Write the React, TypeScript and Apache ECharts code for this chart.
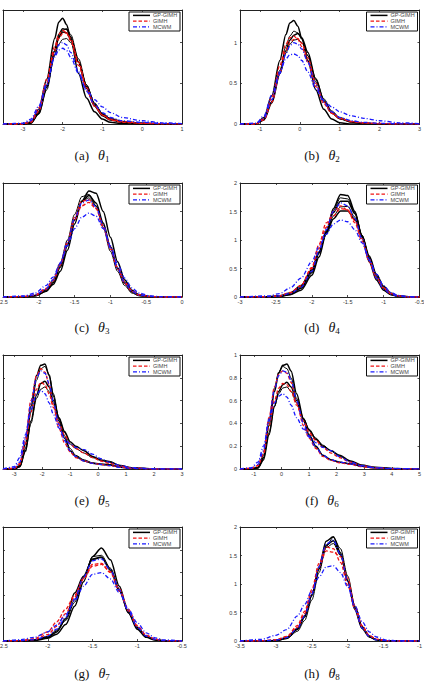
import React, { useEffect, useRef } from "react";
import * as echarts from "echarts";

// ---------- (a) theta1 ----------
const A_X = [-3.5, -3, -2.8, -2.6, -2.4, -2.2, -2.1, -2.0, -1.9, -1.8, -1.6, -1.4, -1.2, -1.0, -0.8, -0.5, 0, 0.5, 1];
const A_GP = [
  [0, 0, 0.02, 0.18, 0.55, 1.05, 1.25, 1.30, 1.22, 1.05, 0.62, 0.32, 0.15, 0.06, 0.02, 0.005, 0, 0, 0],
  [0, 0, 0.01, 0.12, 0.42, 0.85, 1.05, 1.15, 1.17, 1.10, 0.80, 0.48, 0.25, 0.12, 0.06, 0.02, 0.005, 0, 0],
  [0, 0, 0.02, 0.15, 0.48, 0.90, 1.07, 1.13, 1.12, 1.04, 0.76, 0.46, 0.24, 0.12, 0.06, 0.03, 0.01, 0.003, 0],
  [0, 0, 0.02, 0.15, 0.46, 0.84, 0.98, 1.04, 1.05, 1.00, 0.76, 0.48, 0.26, 0.13, 0.07, 0.03, 0.01, 0, 0],
  [0, 0, 0.01, 0.13, 0.45, 0.90, 1.10, 1.17, 1.16, 1.07, 0.76, 0.44, 0.22, 0.10, 0.05, 0.02, 0.005, 0, 0],
];
const A_GIMH = [
  [0, 0, 0.03, 0.20, 0.55, 0.95, 1.10, 1.15, 1.12, 1.02, 0.72, 0.42, 0.22, 0.11, 0.06, 0.03, 0.01, 0.005, 0],
  [0, 0, 0.02, 0.16, 0.50, 0.90, 1.05, 1.11, 1.12, 1.05, 0.76, 0.45, 0.23, 0.11, 0.05, 0.02, 0.008, 0.003, 0],
];
const A_MCWM = [
  [0, 0.01, 0.06, 0.22, 0.50, 0.82, 0.91, 0.93, 0.90, 0.82, 0.62, 0.42, 0.30, 0.21, 0.14, 0.08, 0.04, 0.015, 0.005],
  [0, 0.005, 0.04, 0.18, 0.47, 0.85, 0.97, 1.00, 0.97, 0.88, 0.64, 0.40, 0.24, 0.14, 0.08, 0.04, 0.02, 0.008, 0.002],
];
const A_XTICKS = [-3, -2, -1, 0, 1];
const A_YTICKS = [0, 0.5, 1];

// ---------- (b) theta2 ----------
const B_X = [-1.5, -1.1, -0.9, -0.7, -0.5, -0.35, -0.25, -0.15, -0.05, 0.05, 0.2, 0.4, 0.6, 0.8, 1.0, 1.3, 1.6, 2.0, 2.5, 3.0];
const B_GP = [
  [0, 0, 0.08, 0.35, 0.78, 1.10, 1.24, 1.27, 1.20, 1.05, 0.78, 0.42, 0.18, 0.06, 0.015, 0, 0, 0, 0, 0],
  [0, 0, 0.05, 0.28, 0.66, 0.95, 1.08, 1.14, 1.12, 1.04, 0.84, 0.52, 0.27, 0.13, 0.06, 0.02, 0.006, 0, 0, 0],
  [0, 0, 0.05, 0.26, 0.62, 0.90, 1.03, 1.09, 1.11, 1.06, 0.88, 0.55, 0.29, 0.14, 0.07, 0.025, 0.008, 0.002, 0, 0],
  [0, 0, 0.06, 0.28, 0.62, 0.87, 0.98, 1.03, 1.04, 1.00, 0.84, 0.56, 0.31, 0.16, 0.08, 0.03, 0.01, 0.003, 0, 0],
];
const B_GIMH = [
  [0, 0, 0.07, 0.33, 0.72, 0.98, 1.06, 1.08, 1.04, 0.95, 0.76, 0.46, 0.25, 0.13, 0.07, 0.03, 0.015, 0.006, 0.002, 0],
  [0, 0, 0.05, 0.27, 0.63, 0.90, 1.00, 1.04, 1.05, 0.99, 0.81, 0.50, 0.27, 0.14, 0.07, 0.03, 0.012, 0.005, 0.001, 0],
];
const B_MCWM = [
  [0, 0.01, 0.10, 0.36, 0.64, 0.80, 0.85, 0.86, 0.84, 0.78, 0.64, 0.43, 0.29, 0.21, 0.15, 0.10, 0.07, 0.04, 0.015, 0.005],
  [0, 0.005, 0.07, 0.30, 0.62, 0.86, 0.96, 1.00, 0.98, 0.92, 0.76, 0.48, 0.27, 0.15, 0.08, 0.04, 0.02, 0.008, 0.002, 0],
];
const B_XTICKS = [-1, 0, 1, 2, 3];
const B_YTICKS = [0, 0.5, 1];

// ---------- (c) theta3 ----------
const C_X = [-2.5, -2.2, -2.05, -1.9, -1.8, -1.7, -1.6, -1.5, -1.4, -1.3, -1.2, -1.1, -1.0, -0.9, -0.8, -0.7, -0.6, -0.45, -0.3, 0];
const C_GP = [
  [0, 0, 0.02, 0.10, 0.22, 0.45, 0.82, 1.28, 1.68, 1.86, 1.82, 1.50, 1.05, 0.62, 0.30, 0.12, 0.04, 0.01, 0, 0],
  [0, 0, 0.03, 0.13, 0.30, 0.60, 1.00, 1.45, 1.76, 1.80, 1.60, 1.22, 0.80, 0.45, 0.20, 0.07, 0.02, 0, 0, 0],
  [0, 0, 0.02, 0.10, 0.25, 0.52, 0.90, 1.35, 1.68, 1.78, 1.65, 1.30, 0.88, 0.50, 0.24, 0.09, 0.03, 0.005, 0, 0],
  [0, 0.005, 0.03, 0.12, 0.27, 0.55, 0.93, 1.36, 1.67, 1.74, 1.60, 1.27, 0.88, 0.52, 0.26, 0.10, 0.035, 0.008, 0, 0],
];
const C_GIMH = [
  [0, 0.01, 0.04, 0.15, 0.30, 0.58, 0.95, 1.35, 1.60, 1.66, 1.55, 1.25, 0.88, 0.52, 0.26, 0.11, 0.04, 0.01, 0, 0],
  [0, 0.005, 0.03, 0.13, 0.28, 0.56, 0.96, 1.40, 1.68, 1.71, 1.56, 1.22, 0.84, 0.49, 0.24, 0.10, 0.035, 0.008, 0, 0],
];
const C_MCWM = [
  [0, 0.02, 0.07, 0.20, 0.35, 0.60, 0.90, 1.20, 1.40, 1.47, 1.42, 1.20, 0.90, 0.58, 0.33, 0.16, 0.07, 0.02, 0.005, 0],
  [0, 0.01, 0.04, 0.14, 0.30, 0.58, 0.96, 1.38, 1.65, 1.70, 1.58, 1.26, 0.86, 0.50, 0.25, 0.10, 0.035, 0.01, 0.002, 0],
];
const C_XTICKS = [-2.5, -2, -1.5, -1, -0.5, 0];
const C_YTICKS = [0, 0.5, 1, 1.5, 2];

// ---------- (d) theta4 ----------
const D_X = [-3, -2.6, -2.45, -2.3, -2.15, -2.0, -1.9, -1.8, -1.7, -1.6, -1.5, -1.4, -1.3, -1.2, -1.1, -1.0, -0.9, -0.8, -0.65, -0.5];
const D_GP = [
  [0, 0, 0.01, 0.04, 0.12, 0.38, 0.70, 1.12, 1.55, 1.80, 1.78, 1.50, 1.05, 0.62, 0.30, 0.12, 0.04, 0.01, 0, 0],
  [0, 0, 0.01, 0.05, 0.15, 0.42, 0.76, 1.15, 1.52, 1.74, 1.72, 1.48, 1.08, 0.66, 0.33, 0.14, 0.05, 0.015, 0, 0],
  [0, 0, 0.01, 0.05, 0.16, 0.44, 0.78, 1.15, 1.48, 1.68, 1.68, 1.46, 1.08, 0.68, 0.35, 0.15, 0.05, 0.015, 0, 0],
  [0, 0.005, 0.02, 0.06, 0.18, 0.46, 0.78, 1.12, 1.42, 1.58, 1.59, 1.40, 1.07, 0.70, 0.38, 0.17, 0.06, 0.02, 0, 0],
  [0, 0.005, 0.02, 0.07, 0.20, 0.48, 0.79, 1.10, 1.37, 1.51, 1.51, 1.36, 1.07, 0.72, 0.40, 0.19, 0.07, 0.02, 0.003, 0],
];
const D_GIMH = [
  [0, 0.005, 0.02, 0.08, 0.20, 0.50, 0.85, 1.22, 1.50, 1.60, 1.52, 1.30, 0.98, 0.62, 0.33, 0.15, 0.06, 0.02, 0, 0],
  [0, 0.005, 0.02, 0.07, 0.20, 0.52, 0.92, 1.30, 1.42, 1.55, 1.53, 1.34, 1.02, 0.66, 0.35, 0.16, 0.06, 0.02, 0, 0],
];
const D_MCWM = [
  [0, 0.02, 0.06, 0.16, 0.33, 0.62, 0.88, 1.10, 1.28, 1.35, 1.32, 1.18, 0.95, 0.66, 0.40, 0.20, 0.08, 0.03, 0.005, 0],
  [0, 0.005, 0.02, 0.06, 0.17, 0.45, 0.80, 1.18, 1.50, 1.65, 1.60, 1.38, 1.02, 0.64, 0.33, 0.14, 0.05, 0.015, 0, 0],
];
const D_XTICKS = [-3, -2.5, -2, -1.5, -1, -0.5];
const D_YTICKS = [0, 0.5, 1, 1.5, 2];

// ---------- (e) theta5 ----------
const E_X = [-3.4, -3.0, -2.8, -2.6, -2.4, -2.2, -2.05, -1.9, -1.75, -1.6, -1.4, -1.2, -1.0, -0.8, -0.5, -0.2, 0.1, 0.4, 0.8, 1.2, 2.0, 3.0];
const E_GP = [
  [0, 0, 0.03, 0.22, 0.55, 0.82, 0.91, 0.92, 0.82, 0.64, 0.42, 0.27, 0.16, 0.11, 0.07, 0.05, 0.04, 0.035, 0.015, 0.005, 0, 0],
  [0, 0, 0.02, 0.18, 0.50, 0.78, 0.88, 0.90, 0.83, 0.66, 0.45, 0.29, 0.18, 0.12, 0.08, 0.055, 0.045, 0.04, 0.018, 0.006, 0, 0],
  [0, 0, 0.02, 0.16, 0.42, 0.65, 0.75, 0.77, 0.72, 0.60, 0.45, 0.33, 0.24, 0.20, 0.16, 0.11, 0.08, 0.065, 0.03, 0.012, 0.002, 0],
  [0, 0, 0.02, 0.15, 0.40, 0.62, 0.70, 0.72, 0.68, 0.58, 0.44, 0.32, 0.22, 0.18, 0.14, 0.10, 0.075, 0.06, 0.03, 0.01, 0, 0],
];
const E_GIMH = [
  [0, 0.005, 0.05, 0.27, 0.60, 0.82, 0.88, 0.85, 0.74, 0.56, 0.36, 0.23, 0.15, 0.10, 0.07, 0.05, 0.04, 0.03, 0.015, 0.005, 0, 0],
  [0, 0.005, 0.04, 0.22, 0.50, 0.70, 0.76, 0.74, 0.66, 0.54, 0.40, 0.30, 0.22, 0.18, 0.14, 0.10, 0.07, 0.05, 0.025, 0.01, 0.002, 0],
];
const E_MCWM = [
  [0, 0.02, 0.10, 0.30, 0.52, 0.66, 0.69, 0.66, 0.58, 0.48, 0.36, 0.27, 0.22, 0.19, 0.17, 0.13, 0.09, 0.06, 0.03, 0.012, 0.002, 0],
  [0, 0.01, 0.06, 0.26, 0.58, 0.80, 0.86, 0.84, 0.75, 0.59, 0.39, 0.25, 0.16, 0.11, 0.07, 0.05, 0.04, 0.03, 0.015, 0.005, 0, 0],
];
const E_XTICKS = [-3, -2, -1, 0, 1, 2, 3];
const E_YTICKS = [0, 0.2, 0.4, 0.6, 0.8, 1];

// ---------- (f) theta6 ----------
const F_X = [-1.5, -1.1, -0.85, -0.65, -0.45, -0.25, -0.1, 0.05, 0.2, 0.35, 0.55, 0.8, 1.0, 1.25, 1.5, 1.8, 2.1, 2.5, 2.9, 3.4, 4.0, 5.0];
const F_GP = [
  [0, 0, 0.01, 0.10, 0.38, 0.68, 0.84, 0.91, 0.92, 0.86, 0.66, 0.44, 0.30, 0.20, 0.12, 0.08, 0.06, 0.045, 0.025, 0.01, 0.003, 0],
  [0, 0, 0.015, 0.12, 0.42, 0.71, 0.85, 0.90, 0.88, 0.80, 0.62, 0.42, 0.29, 0.19, 0.12, 0.08, 0.06, 0.045, 0.025, 0.01, 0.003, 0],
  [0, 0, 0.01, 0.08, 0.30, 0.55, 0.68, 0.74, 0.76, 0.72, 0.60, 0.44, 0.34, 0.26, 0.20, 0.16, 0.12, 0.07, 0.035, 0.015, 0.005, 0],
  [0, 0, 0.01, 0.09, 0.32, 0.55, 0.66, 0.71, 0.72, 0.68, 0.58, 0.44, 0.35, 0.27, 0.21, 0.16, 0.11, 0.065, 0.03, 0.012, 0.004, 0],
];
const F_GIMH = [
  [0, 0.005, 0.03, 0.15, 0.45, 0.72, 0.83, 0.86, 0.84, 0.76, 0.58, 0.38, 0.27, 0.18, 0.11, 0.075, 0.055, 0.04, 0.02, 0.008, 0.002, 0],
  [0, 0.005, 0.03, 0.13, 0.38, 0.60, 0.71, 0.75, 0.74, 0.68, 0.56, 0.42, 0.32, 0.25, 0.19, 0.14, 0.10, 0.06, 0.03, 0.012, 0.003, 0],
];
const F_MCWM = [
  [0, 0.01, 0.06, 0.20, 0.42, 0.58, 0.64, 0.66, 0.63, 0.56, 0.45, 0.35, 0.29, 0.23, 0.19, 0.16, 0.11, 0.06, 0.03, 0.012, 0.005, 0],
  [0, 0.008, 0.04, 0.16, 0.44, 0.70, 0.82, 0.86, 0.85, 0.78, 0.60, 0.40, 0.28, 0.19, 0.12, 0.08, 0.06, 0.045, 0.025, 0.01, 0.003, 0],
];
const F_XTICKS = [-1, 0, 1, 2, 3, 4, 5];
const F_YTICKS = [0, 0.2, 0.4, 0.6, 0.8, 1];

// ---------- (g) theta7 ----------
const G_X = [-2.5, -2.3, -2.15, -2.0, -1.9, -1.8, -1.7, -1.6, -1.5, -1.4, -1.3, -1.2, -1.1, -1.0, -0.9, -0.8, -0.7, -0.5];
const G_GP = [
  [0, 0, 0.01, 0.06, 0.15, 0.36, 0.76, 1.30, 1.85, 2.04, 1.78, 1.20, 0.62, 0.26, 0.08, 0.02, 0, 0],
  [0, 0, 0.02, 0.09, 0.22, 0.45, 0.85, 1.38, 1.85, 1.88, 1.60, 1.12, 0.62, 0.28, 0.10, 0.03, 0.005, 0],
  [0, 0, 0.02, 0.08, 0.20, 0.48, 1.05, 1.42, 1.80, 1.84, 1.55, 1.10, 0.64, 0.30, 0.10, 0.03, 0, 0],
  [0, 0.005, 0.02, 0.10, 0.24, 0.50, 0.90, 1.40, 1.78, 1.83, 1.58, 1.14, 0.66, 0.30, 0.11, 0.03, 0.005, 0],
];
const G_GIMH = [
  [0, 0.01, 0.05, 0.20, 0.42, 0.70, 1.00, 1.38, 1.68, 1.70, 1.50, 1.10, 0.66, 0.32, 0.12, 0.04, 0.01, 0],
  [0, 0.005, 0.03, 0.14, 0.32, 0.60, 0.96, 1.36, 1.64, 1.68, 1.52, 1.14, 0.70, 0.34, 0.13, 0.04, 0.01, 0],
];
const G_MCWM = [
  [0, 0.03, 0.08, 0.20, 0.35, 0.58, 0.88, 1.20, 1.46, 1.50, 1.36, 1.06, 0.70, 0.40, 0.18, 0.07, 0.025, 0],
  [0, 0.01, 0.03, 0.11, 0.26, 0.52, 0.92, 1.40, 1.76, 1.80, 1.56, 1.12, 0.66, 0.30, 0.11, 0.035, 0.008, 0],
];
const G_XTICKS = [-2.5, -2, -1.5, -1, -0.5];
const G_YTICKS = [0, 0.5, 1, 1.5, 2, 2.5];

// ---------- (h) theta8 ----------
const H_X = [-3.5, -3.2, -3.0, -2.85, -2.7, -2.6, -2.5, -2.4, -2.3, -2.2, -2.1, -2.0, -1.9, -1.8, -1.7, -1.6, -1.45, -1.3, -1.0];
const H_GP = [
  [0, 0, 0.005, 0.05, 0.20, 0.42, 0.80, 1.30, 1.75, 1.83, 1.55, 1.05, 0.55, 0.22, 0.07, 0.02, 0, 0, 0],
  [0, 0, 0.005, 0.04, 0.17, 0.36, 0.72, 1.20, 1.66, 1.82, 1.62, 1.14, 0.62, 0.26, 0.09, 0.025, 0.003, 0, 0],
  [0, 0, 0.008, 0.06, 0.22, 0.44, 0.80, 1.26, 1.68, 1.76, 1.52, 1.06, 0.58, 0.24, 0.08, 0.02, 0, 0, 0],
  [0, 0, 0.01, 0.06, 0.22, 0.45, 0.82, 1.26, 1.64, 1.71, 1.50, 1.06, 0.60, 0.26, 0.09, 0.025, 0.003, 0, 0],
];
const H_GIMH = [
  [0, 0.005, 0.02, 0.08, 0.27, 0.52, 0.90, 1.36, 1.65, 1.62, 1.38, 0.98, 0.56, 0.25, 0.09, 0.03, 0.005, 0, 0],
  [0, 0.005, 0.02, 0.07, 0.24, 0.48, 0.86, 1.30, 1.58, 1.56, 1.48, 1.10, 0.62, 0.27, 0.10, 0.03, 0.005, 0, 0],
];
const H_MCWM = [
  [0, 0.03, 0.10, 0.20, 0.44, 0.64, 0.88, 1.12, 1.30, 1.32, 1.20, 0.95, 0.62, 0.34, 0.16, 0.07, 0.015, 0.003, 0],
  [0, 0.003, 0.015, 0.06, 0.22, 0.44, 0.82, 1.30, 1.70, 1.77, 1.52, 1.04, 0.56, 0.23, 0.08, 0.02, 0.003, 0, 0],
];
const H_XTICKS = [-3.5, -3, -2.5, -2, -1.5, -1];
const H_YTICKS = [0, 0.5, 1, 1.5, 2];

const METHODS = ["GP-GIMH", "GIMH", "MCWM"];
const CAPTION_LETTERS = ["a", "b", "c", "d", "e", "f", "g", "h"];

const PANELS = [
  { x: A_X, gp: A_GP, gimh: A_GIMH, mcwm: A_MCWM, xMin: -3.5, xMax: 1, xTicks: A_XTICKS, yMax: 1.4, yTicks: A_YTICKS },
  { x: B_X, gp: B_GP, gimh: B_GIMH, mcwm: B_MCWM, xMin: -1.5, xMax: 3, xTicks: B_XTICKS, yMax: 1.4, yTicks: B_YTICKS },
  { x: C_X, gp: C_GP, gimh: C_GIMH, mcwm: C_MCWM, xMin: -2.5, xMax: 0, xTicks: C_XTICKS, yMax: 2, yTicks: C_YTICKS },
  { x: D_X, gp: D_GP, gimh: D_GIMH, mcwm: D_MCWM, xMin: -3, xMax: -0.5, xTicks: D_XTICKS, yMax: 2, yTicks: D_YTICKS },
  { x: E_X, gp: E_GP, gimh: E_GIMH, mcwm: E_MCWM, xMin: -3.4, xMax: 3, xTicks: E_XTICKS, yMax: 1, yTicks: E_YTICKS },
  { x: F_X, gp: F_GP, gimh: F_GIMH, mcwm: F_MCWM, xMin: -1.5, xMax: 5, xTicks: F_XTICKS, yMax: 1, yTicks: F_YTICKS },
  { x: G_X, gp: G_GP, gimh: G_GIMH, mcwm: G_MCWM, xMin: -2.5, xMax: -0.5, xTicks: G_XTICKS, yMax: 2.5, yTicks: G_YTICKS },
  { x: H_X, gp: H_GP, gimh: H_GIMH, mcwm: H_MCWM, xMin: -3.5, xMax: -1, xTicks: H_XTICKS, yMax: 2, yTicks: H_YTICKS },
];

// layout
const COL_LEFT = [3, 240];
const COL_WIDTH = [179, 179.5];
const ROW_TOP = [10, 183, 355, 527];
const PLOT_H = 114;
const CAP_X = [92, 322];
const CAP_Y = [155, 327, 500, 673];

const BLACK = "#000000";
const RED = "#f01414";
const BLUE = "#1a1aff";
const AXIS_COLOR = "#222";
const FONT = "'Liberation Sans', Arial, sans-serif";
const SERIF = "'Liberation Serif', 'Times New Roman', serif";
const DASH_RED = [3.5, 2];
const DASH_BLUE = [4, 2, 1, 2];

function legendGroup(left: number, top: number) {
  const styles = [
    { stroke: BLACK, lineWidth: 1.5, lineDash: null as any },
    { stroke: RED, lineWidth: 1.3, lineDash: DASH_RED },
    { stroke: BLUE, lineWidth: 1.3, lineDash: DASH_BLUE },
  ];
  const children: any[] = [
    { type: "rect", shape: { x: 0, y: 0, width: 51, height: 19 }, style: { fill: "#ffffff", stroke: "#111", lineWidth: 1 } },
  ];
  METHODS.forEach((m, k) => {
    const cy = 3.4 + k * 5.7;
    children.push({
      type: "line",
      shape: { x1: 4, y1: cy, x2: 21, y2: cy },
      style: { stroke: styles[k].stroke, lineWidth: styles[k].lineWidth, lineDash: styles[k].lineDash },
    });
    children.push({
      type: "text",
      x: 24, y: cy,
      style: { text: m, fontSize: 5.5, fontFamily: FONT, fill: "#444", verticalAlign: "middle", align: "left" },
    });
  });
  return { type: "group", x: left, y: top, z: 100, silent: true, children };
}

function buildOption() {
  const grid: any[] = [];
  const xAxis: any[] = [];
  const yAxis: any[] = [];
  const series: any[] = [];
  const graphic: any[] = [];

  PANELS.forEach((p, i) => {
    const col = i % 2;
    const row = Math.floor(i / 2);
    const left = COL_LEFT[col];
    const width = COL_WIDTH[col];
    const top = ROW_TOP[row];
    grid.push({ left, top, width, height: PLOT_H, containLabel: false, outerBoundsMode: "none" });

    const tick = (vals: number[]) => ({ show: true, inside: true, length: 2, customValues: vals, lineStyle: { color: AXIS_COLOR, width: 0.8 } });
    const line = { show: true, onZero: false, lineStyle: { color: AXIS_COLOR, width: 1 } };
    const lbl = (vals: number[], margin: number) => ({
      show: true, customValues: vals, fontSize: 5.5, color: "#333", fontFamily: FONT, margin, hideOverlap: false,
    });

    xAxis.push({
      type: "value", gridIndex: i, position: "bottom", min: p.xMin, max: p.xMax,
      axisLine: line, axisTick: tick(p.xTicks), axisLabel: lbl(p.xTicks, 1.5), splitLine: { show: false },
    });
    xAxis.push({
      type: "value", gridIndex: i, position: "top", min: p.xMin, max: p.xMax,
      axisLine: line, axisTick: tick(p.xTicks), axisLabel: { show: false }, splitLine: { show: false },
    });
    yAxis.push({
      type: "value", gridIndex: i, position: "left", min: 0, max: p.yMax,
      axisLine: line, axisTick: tick(p.yTicks), axisLabel: lbl(p.yTicks, 3), splitLine: { show: false },
    });
    yAxis.push({
      type: "value", gridIndex: i, position: "right", min: 0, max: p.yMax,
      axisLine: line, axisTick: tick(p.yTicks), axisLabel: { show: false }, splitLine: { show: false },
    });

    const mk = (name: string, ys: number[], color: string, width: number, type: any) => ({
      type: "line", name, xAxisIndex: 2 * i, yAxisIndex: 2 * i,
      data: p.x.map((xv: number, k: number) => [xv, ys[k]]),
      symbol: "none", showSymbol: false, smooth: 0.3, smoothMonotone: "x",
      color, lineStyle: { color, width, type }, silent: true, z: 2,
      emphasis: { disabled: true },
    });
    p.gp.forEach((ys: number[], k: number) => series.push(mk(METHODS[0], ys, BLACK, k % 2 === 0 ? 1.5 : 1.0, "solid")));
    p.gimh.forEach((ys: number[]) => series.push(mk(METHODS[1], ys, RED, 1.3, DASH_RED)));
    p.mcwm.forEach((ys: number[]) => series.push(mk(METHODS[2], ys, BLUE, 1.3, DASH_BLUE)));

    graphic.push(legendGroup(left + width - 53, top + 2));

    graphic.push({
      type: "text",
      x: CAP_X[col],
      y: CAP_Y[row],
      z: 100,
      style: {
        text: `{p|(${CAPTION_LETTERS[i]})}{t|θ}{s|${i + 1}}`,
        align: "center",
        verticalAlign: "middle",
        fill: "#111",
        rich: {
          p: { fontFamily: SERIF, fontSize: 13, lineHeight: 16, fill: "#111" },
          t: { fontFamily: SERIF, fontStyle: "italic", fontSize: 14, lineHeight: 16, padding: [0, 0, 0, 9], fill: "#111" },
          s: { fontFamily: SERIF, fontSize: 9, lineHeight: 9, padding: [7, 0, 0, 0], verticalAlign: "bottom", fill: "#111" },
        },
      },
    });
  });

  return { animation: false, backgroundColor: "#ffffff", grid, xAxis, yAxis, series, graphic };
}

export default function App() {
  const ref = useRef<HTMLDivElement>(null);
  useEffect(() => {
    if (!ref.current) return;
    const chart = echarts.init(ref.current, undefined, { renderer: "svg" });
    chart.setOption(buildOption() as any);
    return () => chart.dispose();
  }, []);
  return (
    <div
      ref={ref}
      style={{ position: "absolute", left: 0, top: 0, width: 424, height: 684, background: "#fff" }}
    />
  );
}
